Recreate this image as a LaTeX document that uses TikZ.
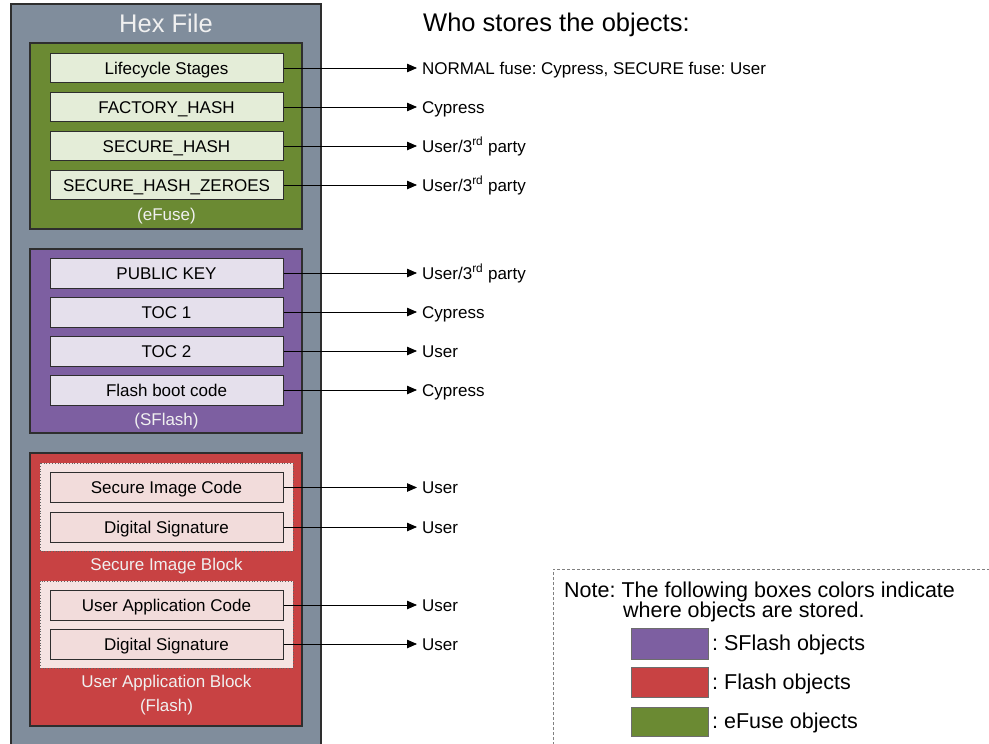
\documentclass[tikz,border=0pt]{standalone}
\usepackage{fontspec}
\setmainfont{Liberation Sans}
\usetikzlibrary{arrows.meta}
\frenchspacing
\definecolor{hexgray}{HTML}{808D9C}
\definecolor{fgreen}{HTML}{6B8A33}
\definecolor{lgreen}{HTML}{E4EDD8}
\definecolor{fpurple}{HTML}{7D5FA1}
\definecolor{lpurple}{HTML}{E5E0EC}
\definecolor{fred}{HTML}{C84243}
\definecolor{lpink}{HTML}{F2DCDB}
\definecolor{dpink}{HTML}{F5E3E2}
\definecolor{edge}{HTML}{2E2E2E}
\tikzset{
  cont/.style={draw=edge, line width=1.2pt},
  item/.style={draw=edge, line width=1pt, minimum width=233pt, minimum height=29pt, inner sep=0pt,
    text height=12.2pt, text depth=0pt, font=\fontsize{17}{20}\selectfont, text=black},
  capt/.style={font=\fontsize{17}{20}\selectfont, text=white!94!black, inner sep=0pt, text height=12.2pt, text depth=0pt},
  lbl/.style={anchor=west, inner sep=1pt, text height=12.2pt, text depth=0pt, font=\fontsize{17}{20}\selectfont},
  arr/.style={-{Triangle[length=10pt,width=8.5pt]}, line width=0.8pt, shorten >=4pt},
  legbox/.style={draw=edge!70, line width=0.8pt},
  legtxt/.style={anchor=west, inner sep=0pt, text height=15.4pt, text depth=0pt, font=\fontsize{21.5}{25}\selectfont},
  dotbox/.style={draw=edge!75, dotted, line width=0.8pt, fill=dpink},
}
\begin{document}
\begin{tikzpicture}[x=1pt,y=-1pt]
\useasboundingbox (0,0) rectangle (989,744);
% Hex file container
\draw[cont, fill=hexgray] (11,4) rectangle (321,770);
\node[font=\fontsize{25.5}{30}\selectfont, text=white!94!black, text height=18.3pt, text depth=0pt, inner sep=0pt] (hextitle) at (166,23) {Hex File};
% eFuse
\draw[cont, fill=fgreen] (30,43) rectangle (302,229);
\node[item, fill=lgreen] (g1) at (166.5,68) {Lifecycle Stages};
\node[item, fill=lgreen] (g2) at (166.5,107) {FACTORY\_HASH};
\node[item, fill=lgreen] (g3) at (166.5,146) {SECURE\_HASH};
\node[item, fill=lgreen] (g4) at (166.5,185) {SECURE\_HASH\_ZEROES};
\node[capt] (gcap) at (166.5,214) {(eFuse)};
% SFlash
\draw[cont, fill=fpurple] (30,249) rectangle (302,433);
\node[item, fill=lpurple, minimum height=30pt] (p1) at (166.5,273) {PUBLIC KEY};
\node[item, fill=lpurple, minimum height=30pt] (p2) at (166.5,312) {TOC 1};
\node[item, fill=lpurple, minimum height=30pt] (p3) at (166.5,351) {TOC 2};
\node[item, fill=lpurple, minimum height=30pt] (p4) at (166.5,390) {Flash boot code};
\node[capt] (pcap) at (166.5,419) {(SFlash)};
% Flash
\draw[cont, fill=fred] (30,453) rectangle (302,726);
\draw[dotbox] (40,463) rectangle (293,551);
\draw[dotbox] (40,581) rectangle (293,668);
\node[item, fill=lpink, minimum height=30pt] (r1) at (166.5,487.5) {Secure Image Code};
\node[item, fill=lpink, minimum height=30pt] (r2) at (166.5,527) {Digital Signature};
\node[capt] (rcap1) at (166.5,564) {Secure Image Block};
\node[item, fill=lpink, minimum height=30pt] (r3) at (166.5,605) {User Application Code};
\node[item, fill=lpink, minimum height=30pt] (r4) at (166.5,644) {Digital Signature};
\node[capt] (rcap2) at (166.5,681) {User Application Block};
\node[capt] (rcap3) at (166.5,705) {(Flash)};
% Who stores
\node[anchor=west, inner sep=0pt, text height=18.3pt, text depth=0pt, font=\fontsize{25.5}{30}\selectfont] (who) at (423,22) {Who stores the objects:};
\node[lbl] (t1) at (421,68) {NORMAL fuse: Cypress, SECURE fuse: User};
\node[lbl] (t2) at (421,107) {Cypress};
\node[lbl] (t3) at (421,146) {User/3\textsuperscript{rd} party};
\node[lbl] (t4) at (421,185) {User/3\textsuperscript{rd} party};
\node[lbl] (t5) at (421,273) {User/3\textsuperscript{rd} party};
\node[lbl] (t6) at (421,312) {Cypress};
\node[lbl] (t7) at (421,351) {User};
\node[lbl] (t8) at (421,390) {Cypress};
\node[lbl] (t9) at (421,487.5) {User};
\node[lbl] (t10) at (421,527) {User};
\node[lbl] (t11) at (421,605) {User};
\node[lbl] (t12) at (421,644) {User};
\foreach \a/\b in {g1/t1,g2/t2,g3/t3,g4/t4,p1/t5,p2/t6,p3/t7,p4/t8,r1/t9,r2/t10,r3/t11,r4/t12}
  \draw[arr] (\a.east) -- (\b.west);
% Note box
\draw[gray, dashed, dash pattern=on 3pt off 2pt, line width=0.8pt] (553,770) -- (553,569) -- (995,569);
\node[legtxt] (note1) at (564,590) {Note: The following boxes colors indicate};
\node[legtxt] (note2) at (623,610) {where objects are stored.};
\draw[legbox, fill=fpurple] (631,628) rectangle (708,659);
\draw[legbox, fill=fred] (631,667) rectangle (708,697);
\draw[legbox, fill=fgreen] (631,707) rectangle (708,736);
\node[legtxt] (leg1) at (712,643) {: SFlash objects};
\node[legtxt] (leg2) at (712,682) {: Flash objects};
\node[legtxt] (leg3) at (712,721) {: eFuse objects};
\end{tikzpicture}
\end{document}
